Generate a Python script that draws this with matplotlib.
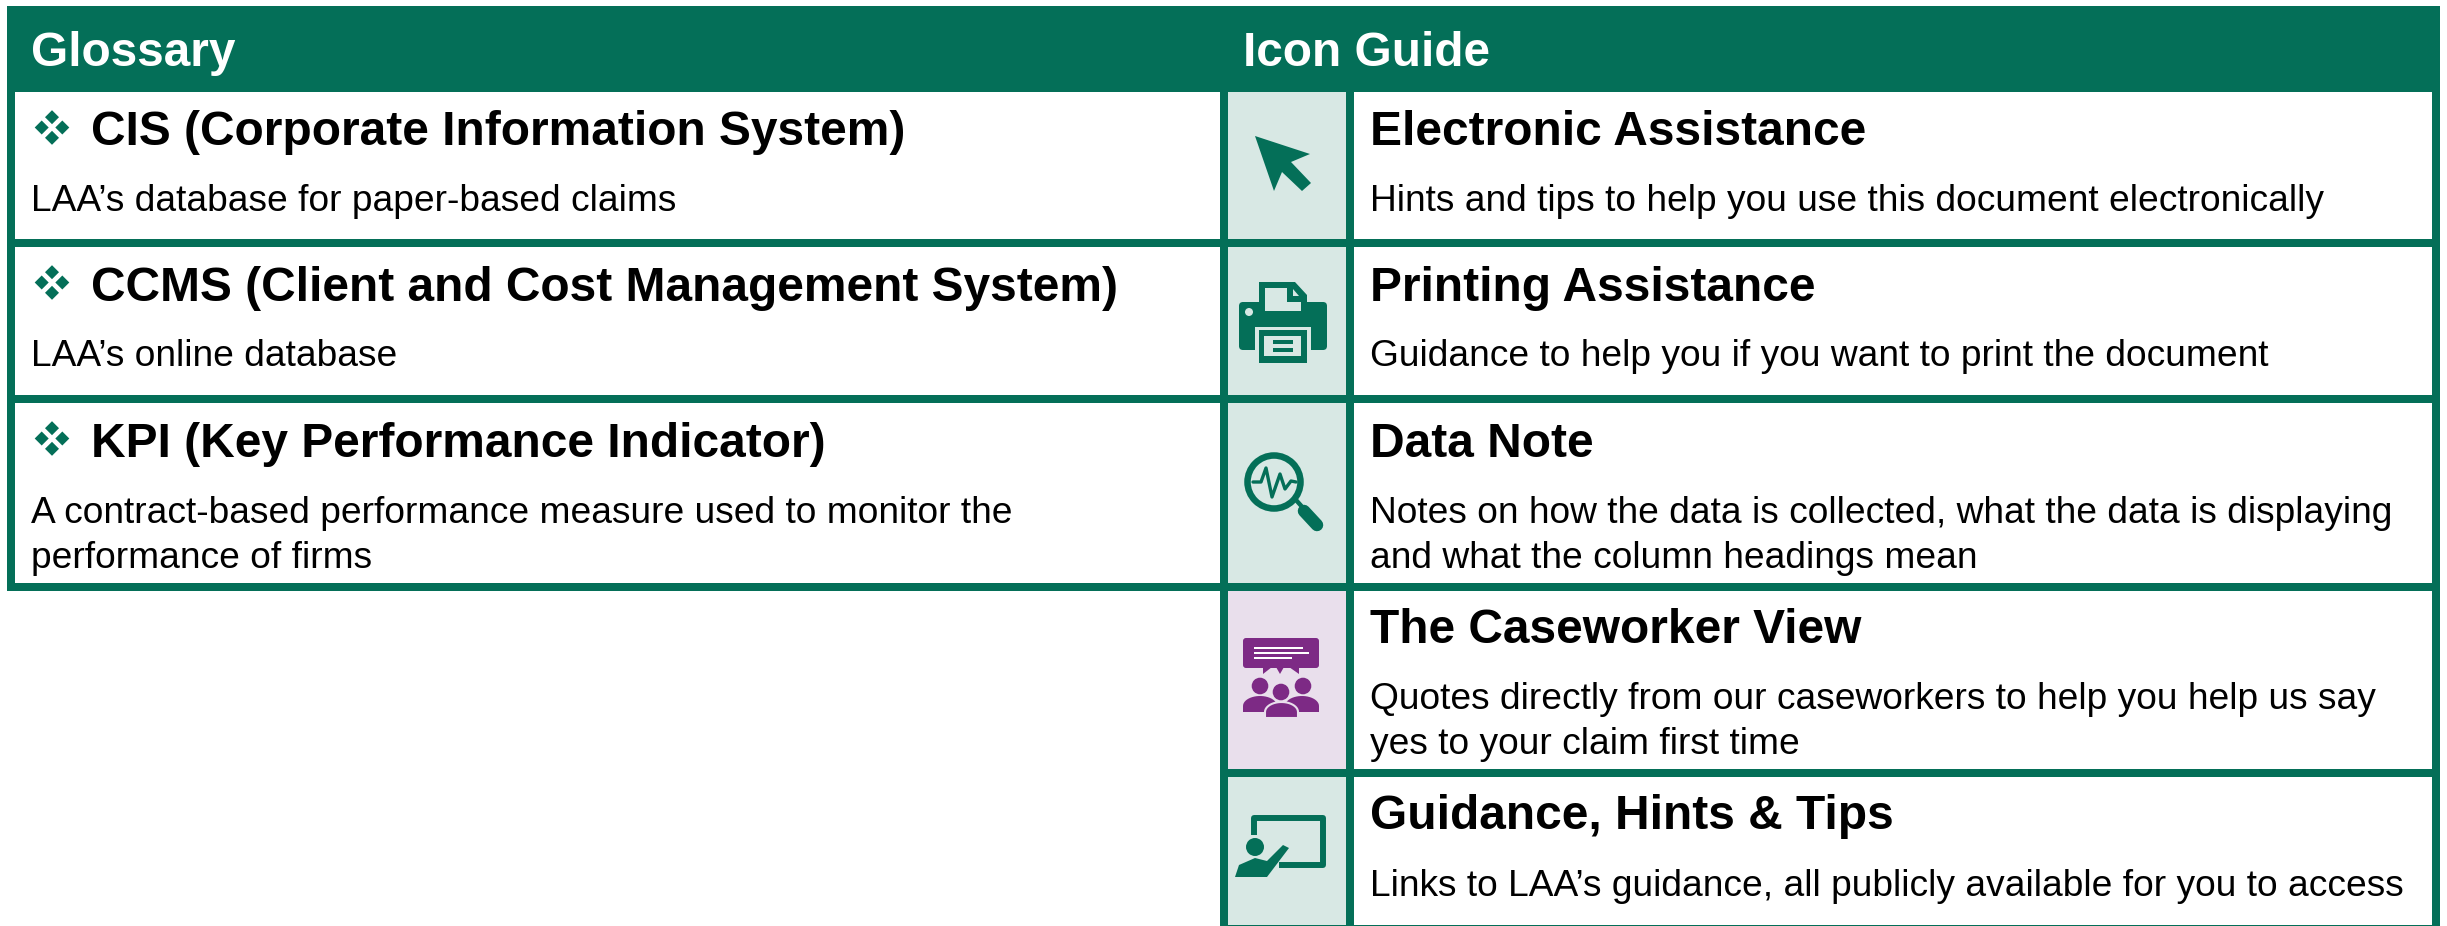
import numpy as np
import matplotlib
matplotlib.use('Agg')
from matplotlib import pyplot as plt
from matplotlib.patches import Rectangle, Polygon, Circle, FancyBboxPatch

GREEN = '#046f58'
PALE_GREEN = '#d8e8e4'
PALE_PURPLE = '#e9dfec'
PURPLE = '#7d2a85'

plt.rcParams['font.family'] = ['Liberation Sans', 'DejaVu Sans']

headers = ['Glossary', 'Icon Guide']
glossary_titles = ['CIS (Corporate Information System)',
                   'CCMS (Client and Cost Management System)',
                   'KPI (Key Performance Indicator)']
glossary_texts = ['LAA’s database for paper-based claims',
                  'LAA’s online database',
                  'A contract-based performance measure used to monitor the\nperformance of firms']
icon_titles = ['Electronic Assistance', 'Printing Assistance', 'Data Note',
               'The Caseworker View', 'Guidance, Hints & Tips']
icon_texts = ['Hints and tips to help you use this document electronically',
              'Guidance to help you if you want to print the document',
              'Notes on how the data is collected, what the data is displaying\nand what the column headings mean',
              'Quotes directly from our caseworkers to help you help us say\nyes to your claim first time',
              'Links to LAA’s guidance, all publicly available for you to access']
row_lines = [239, 395, 582.5, 769]
row_tops = [92, 247, 403, 590.5, 777]
title_base = [145, 301, 457, 643, 829]
text_base = [211, 366, 523, 709, 896]


def rect(ax, x0, y0, x1, y1, color, z=2):
    ax.add_patch(Rectangle((x0, y0), x1 - x0, y1 - y0, fc=color, ec='none', zorder=z))


def poly(ax, pts, color=GREEN, z=4, ec='none', lw=0):
    ax.add_patch(Polygon(pts, closed=True, fc=color, ec=ec, lw=lw, zorder=z))


def circ(ax, x, y, r, color=GREEN, z=4, ec='none', lw=0):
    ax.add_patch(Circle((x, y), r, fc=color, ec=ec, lw=lw, zorder=z))


def dome(x0, x1, top, bottom, shoulder):
    # flat bottom with an elliptical top, for the people in the icons
    t = np.linspace(np.pi, 0, 24)
    cx, rx = (x0 + x1) / 2, (x1 - x0) / 2
    xs = cx + rx * np.cos(t)
    ys = top + shoulder - shoulder * np.sin(t)
    return [(x0, bottom)] + list(zip(xs, ys)) + [(x1, bottom)]


def draw_cursor(ax):
    poly(ax, [(1255, 136), (1310, 154), (1291, 162), (1311, 183), (1302, 191),
              (1282, 172), (1274, 191)])


def draw_printer(ax):
    poly(ax, [(1259, 282), (1295, 282), (1307, 295), (1307, 312), (1259, 312)])
    ax.add_patch(FancyBboxPatch((1239, 302), 88, 48, boxstyle='round,pad=0,rounding_size=4',
                                fc=GREEN, ec='none', zorder=4))
    poly(ax, [(1265, 288), (1287, 288), (1287, 302), (1301, 302), (1301, 311), (1265, 311)], PALE_GREEN, 5)
    poly(ax, [(1293, 289), (1299, 296), (1293, 296)], PALE_GREEN, 5)
    circ(ax, 1249, 312, 4, PALE_GREEN, 5)
    rect(ax, 1255, 327, 1311, 351, PALE_GREEN, 5)
    rect(ax, 1259, 330, 1307, 363, GREEN, 6)
    rect(ax, 1264, 336, 1301, 356, PALE_GREEN, 7)
    rect(ax, 1273, 340, 1293, 344, GREEN, 8)
    rect(ax, 1273, 348, 1293, 352, GREEN, 8)


def draw_data_note(ax):
    ax.add_patch(Circle((1274, 482), 26.5, fc='none', ec=GREEN, lw=4.7, zorder=4))
    ax.plot([1253, 1261, 1266, 1272, 1280, 1285, 1291, 1296],
            [482, 482, 468, 497, 474, 489, 481, 482],
            color=GREEN, lw=2.4, zorder=4, solid_joinstyle='round', solid_capstyle='round')
    ax.plot([1296, 1304], [500, 509], color=GREEN, lw=3.2, zorder=4)
    ax.plot([1304, 1317], [511, 525], color=GREEN, lw=9, zorder=4, solid_capstyle='round')


def draw_caseworker(ax):
    ax.add_patch(FancyBboxPatch((1243, 638), 76, 30, boxstyle='round,pad=0,rounding_size=3',
                                fc=PURPLE, ec='none', zorder=4))
    for y, x1 in [(648, 1303), (653, 1309), (658, 1292)]:
        rect(ax, 1254, y - 0.9, x1, y + 0.9, 'white', 5)
    poly(ax, [(1263, 667), (1263, 674), (1272, 667), (1276, 667), (1280, 674),
              (1284, 667), (1289, 667), (1299, 674), (1299, 667)], PURPLE)
    circ(ax, 1260, 686, 8.3, PURPLE)
    circ(ax, 1303, 686, 8.3, PURPLE)
    poly(ax, dome(1243, 1277, 696, 712, 10), PURPLE)
    poly(ax, dome(1285, 1319, 696, 712, 10), PURPLE)
    circ(ax, 1281, 692, 8.3, PURPLE, 5)
    poly(ax, dome(1265, 1298, 702, 718, 10), PURPLE, 5, ec=PALE_PURPLE, lw=1.5)


def draw_guidance(ax):
    ax.plot([1254, 1254, 1323, 1323, 1279], [835, 818, 818, 865, 865], color=GREEN, lw=4.3,
            zorder=4, solid_joinstyle='round', solid_capstyle='butt')
    circ(ax, 1255, 847, 9, GREEN)
    poly(ax, [(1235, 877), (1239, 865), (1255, 858), (1267, 861),
              (1283, 845), (1289, 848), (1267, 877)])


fig = plt.figure(figsize=(24.47, 9.26), dpi=100)
ax = fig.add_axes([0, 0, 1, 1])
ax.set_xlim(0, 2447)
ax.set_ylim(926, 0)
ax.axis('off')

# header band
rect(ax, 7, 6, 2440, 92, GREEN)
for x, label in zip([31, 1243], headers):
    ax.text(x, 66, label, color='white', fontsize=34.4, fontweight='bold', va='baseline', zorder=5)

# icon column backgrounds
for i in range(5):
    y1 = row_lines[i] if i < 4 else 926
    rect(ax, 1228, row_tops[i], 1346, y1, PALE_PURPLE if i == 3 else PALE_GREEN, 1)

# grid lines
rect(ax, 7, 92, 15, 590.5, GREEN)
rect(ax, 1220, 92, 1228, 926, GREEN)
rect(ax, 1346, 92, 1354, 926, GREEN)
rect(ax, 2432, 92, 2440, 926, GREEN)
rect(ax, 1220, 925, 2440, 926, GREEN)
for i, y in enumerate(row_lines):
    x0 = 7 if i < 3 else 1220
    rect(ax, x0, y, 2440, y + 8, GREEN)


def body_text(ax, x, base, text):
    for k, line in enumerate(text.split('\n')):
        ax.text(x, base + 44.5 * k, line, fontsize=26.7, va='baseline', zorder=5)


# glossary rows
for i, (title, text) in enumerate(zip(glossary_titles, glossary_texts)):
    y = row_tops[i]
    for dx, dy in [(0, -10.3), (0, 10.3), (-10.3, 0), (10.3, 0)]:
        cx, cy = 52 + dx, y + 35.5 + dy
        poly(ax, [(cx - 7, cy), (cx, cy - 7), (cx + 7, cy), (cx, cy + 7)])
    ax.text(91, title_base[i], title, fontsize=34.5, fontweight='bold', va='baseline', zorder=5)
    body_text(ax, 31, text_base[i], text)

# icon guide rows
for i, (title, text) in enumerate(zip(icon_titles, icon_texts)):
    ax.text(1370, title_base[i], title, fontsize=34.5, fontweight='bold', va='baseline', zorder=5)
    body_text(ax, 1370, text_base[i], text)

draw_cursor(ax)
draw_printer(ax)
draw_data_note(ax)
draw_caseworker(ax)
draw_guidance(ax)

fig.savefig('out.png', dpi=100, facecolor='white')
